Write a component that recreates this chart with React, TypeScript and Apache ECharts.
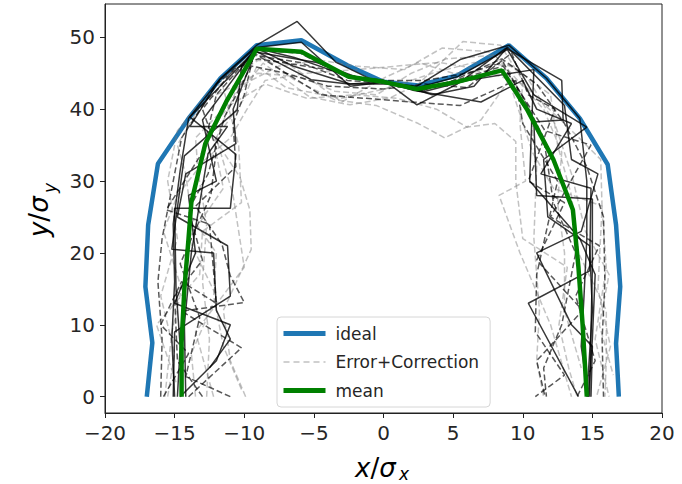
import React, { useEffect, useRef } from "react";
import * as echarts from "echarts";

// ---- data (x/σx, y/σy) ----
const ideal: number[][] = [
  [-17.0, 0], [-16.6, 7.5], [-17.1, 15.3], [-16.9, 23.9], [-16.2, 32.4], [-14.0, 38.7], [-11.7, 44.3],
  [-9.1, 48.9], [-5.9, 49.6], [-2.6, 46.1], [0.0, 43.8], [2.5, 43.3], [5.3, 44.7], [9.0, 48.9],
  [11.7, 44.3], [14.1, 38.7], [16.1, 32.3], [16.7, 23.9], [17.0, 15.3], [16.7, 7.4], [16.9, 0],
];

const mean: number[][] = [
  [-14.5, 0], [-14.5, 7.5], [-14.3, 15.0], [-14.0, 22.0], [-13.8, 27.0], [-12.8, 35.2], [-11.3, 41.0],
  [-9.1, 48.4], [-5.9, 48.0], [-2.5, 44.5], [0.0, 43.8], [2.4, 42.8], [5.3, 43.8], [8.5, 45.4],
  [10.3, 40.0], [12.2, 33.0], [13.6, 26.0], [14.0, 18.0], [14.3, 10.0], [14.6, 0],
];

// Error+Correction trajectories: solid black
const solid1: number[][] = [
  [-15.0, 0], [-15.2, 8], [-15.0, 16], [-15.1, 24], [-14.6, 31.5], [-14.0, 38.7], [-11.7, 44.3],
  [-9.1, 48.9], [-6.2, 52.2], [-3.4, 46.5], [-0.5, 43.8], [2.4, 43.2], [5.5, 46.9], [9.0, 48.9],
  [11.7, 44.3], [14.1, 38.7], [14.6, 30], [14.6, 22], [14.4, 14], [14.2, 7], [14.7, 0],
];
const solid2: number[][] = [
  [-14.8, 0], [-14.6, 7], [-14.9, 15], [-15.0, 26.2], [-11.0, 26.2], [-10.6, 33.7], [-13.9, 38.9],
  [-9.0, 48.6], [-5.9, 49.3], [-2.4, 43.2], [0.2, 43.8], [2.4, 40.6], [5.3, 43.5], [8.8, 48.5],
  [12.8, 44.0], [12.9, 38.5], [10.8, 38.2], [11.0, 28], [15.0, 27.5], [15.0, 18], [14.8, 0],
];
const solid3: number[][] = [
  [-12.5, 4], [-11.0, 8], [-12.0, 12], [-12.2, 20], [-15.2, 20.5], [-14.3, 33.5], [-10.5, 39.9],
  [-10.2, 46], [-9.3, 48.2], [-5.2, 44.1], [-2.5, 43.5], [0.5, 43.5], [3.0, 42.5], [6.0, 44.0],
  [10.8, 45.5], [10.6, 36], [10.5, 30], [14.1, 22], [15.2, 17], [15.0, 8], [14.7, 0],
];
const solid4: number[][] = [
  [-14.2, 0], [-14.3, 10], [-13.8, 20], [-12.6, 33.8], [-11.2, 37.6], [-13.9, 37.6], [-11.8, 44.0],
  [-9.2, 48.5], [-6.4, 47.2], [-2.4, 44.5], [0.0, 43.8], [2.2, 42.6], [7.0, 41.0], [10.0, 44.0],
  [11.0, 40.0], [13.5, 38.0], [11.3, 31.0], [14.9, 29.0], [14.8, 17.5], [10.4, 13], [14.0, 0],
];
const solid5: number[][] = [
  [-15.1, 0], [-15.0, 9], [-11.0, 14], [-11.2, 21], [-14.8, 25], [-14.2, 31], [-10.6, 35.2],
  [-10.8, 40], [-9.1, 48.5], [-6.5, 46], [-2.4, 43.5], [0, 43.8], [2.5, 43], [5.3, 44.5],
  [8.9, 48.3], [10.8, 42], [14.6, 37.5], [11.5, 33], [11.8, 25], [14.8, 21], [15.0, 12], [14.6, 0],
];
const solid6: number[][] = [
  [-14.6, 0], [-12.0, 5], [-11.0, 10], [-15.0, 13], [-13.5, 20], [-14.0, 28], [-12.0, 30],
  [-13.0, 38.5], [-9.3, 48], [-4.8, 46.5], [-2.0, 44.5], [1.0, 43.5], [3.5, 42.0], [6.5, 43.2],
  [8.9, 48.6], [13.0, 40.5], [13.5, 33], [15.4, 31], [14.2, 23], [11.0, 20], [13.5, 10], [15.0, 7], [14.9, 0],
];
// dashed black
const dashK1: number[][] = [
  [-16.0, 0], [-15.9, 8], [-16.2, 16], [-15.9, 22], [-15.3, 28], [-14.5, 36], [-12.0, 43.5],
  [-9.3, 47.5], [-6.0, 46.5], [-2.6, 44.0], [0.3, 43.6], [2.6, 42.5], [5.0, 44.0], [8.5, 47.0],
  [11.0, 43.5], [13.0, 38.0], [14.6, 32], [15.8, 25], [15.9, 16], [15.7, 8], [15.8, 0],
];
const dashK2: number[][] = [
  [-14.0, 0], [-10.2, 6.8], [-14.5, 11.9], [-10.0, 13.1], [-11.0, 16.8], [-11.6, 21.2], [-13.5, 26.5],
  [-10.6, 32], [-10.8, 38], [-10.0, 42], [-9.3, 47.8], [-4.5, 42.0], [2.0, 41.0], [5.5, 40.5],
  [9.5, 44], [10.0, 38], [12.5, 30], [11.0, 17], [10.9, 9], [13.0, 3], [10.9, 0],
];
const dashK3: number[][] = [
  [-11.0, 0], [-14.2, 2.8], [-13.2, 11], [-14.6, 18.5], [-12.4, 28], [-12.0, 34.5], [-13.0, 40],
  [-10.8, 45.5], [-9.0, 47], [-4.0, 45.5], [-1.0, 44], [3.0, 44], [6.0, 45], [8.6, 46.5],
  [10.2, 41], [11.5, 36], [12.2, 27], [13.8, 20], [12.8, 10], [11.5, 4], [11.7, 0],
];
const dashK4: number[][] = [
  [-15.8, 0], [-14.0, 6], [-16.0, 10], [-14.5, 16], [-12.0, 13], [-12.5, 24], [-15.6, 26],
  [-13.0, 34], [-12.0, 42], [-9.2, 48.2], [-6.0, 47.8], [-3.0, 44.8], [0, 44], [2.6, 42.5],
  [5.5, 44.2], [8.6, 46], [11.6, 37], [14.9, 35], [12.0, 25], [15.5, 21], [13.8, 14], [15.2, 5], [13.9, 0],
];
const dashK5: number[][] = [
  [-13.0, 0], [-14.8, 5], [-15.0, 14], [-13.0, 19], [-14.0, 26], [-12.6, 31], [-11.4, 39],
  [-9.5, 46], [-7.0, 45], [-4.0, 43.2], [0, 42.8], [3.0, 43.5], [6.0, 43], [9.2, 47.8],
  [10.4, 42], [12.3, 40], [10.4, 30], [13.0, 27], [11.0, 19], [14.3, 12], [11.0, 5], [11.6, 0],
];
// dashed grey
const dashG1: number[][] = [
  [-9.9, 0], [-11.0, 5], [-11.5, 12], [-9.5, 20.5], [-9.6, 26], [-10.3, 30.5], [-12.5, 37],
  [-8.65, 46.4], [-5.3, 41.7], [-2.4, 40.6], [0.5, 41.6], [2.5, 43.5], [5.7, 49.4], [8.4, 48.9],
  [10.0, 44.0], [9.8, 38], [10.2, 30], [8.3, 28], [9.8, 20], [12.0, 10], [13.5, 0],
];
const dashG2: number[][] = [
  [-15.5, 0], [-15.0, 6], [-16.0, 14], [-14.8, 22], [-15.5, 30], [-14.8, 37], [-12.5, 42.5],
  [-9.0, 46.8], [-7.0, 46.5], [-5.5, 44.5], [-3.0, 41.0], [0.2, 44.5], [2.5, 46.5], [5.0, 45],
  [8.8, 45.5], [10.5, 40], [11.0, 32], [10.8, 22], [11.2, 12], [11.0, 5], [11.5, 0],
];
const dashG3: number[][] = [
  [-12.7, 0], [-12.5, 8], [-13.0, 16], [-12.7, 24], [-13.3, 31], [-13.5, 36], [-11.5, 40],
  [-8.5, 43.5], [-5.5, 41.5], [-2.0, 42.0], [1.0, 41.5], [3.8, 40.0], [6.0, 37.5], [8.0, 38.0],
  [9.5, 35.5], [9.5, 30], [10.0, 22], [13.2, 18], [12.6, 10], [13.3, 4], [13.9, 0],
];
const dashG4: number[][] = [
  [-13.5, 0], [-13.8, 6], [-12.0, 14], [-14.0, 22], [-11.5, 29], [-12.2, 35.5], [-10.0, 41.5],
  [-9.1, 46], [-7.0, 43], [-3.0, 41.5], [0.5, 43], [3.5, 45], [6.5, 46.5], [9.2, 46],
  [12.0, 42], [12.5, 35], [13.5, 28], [14.0, 20], [16.0, 12], [16.0, 5], [15.9, 0],
];
const dashG5: number[][] = [
  [-15.7, 0], [-15.2, 9], [-14.5, 15], [-15.8, 23], [-14.8, 28], [-12.8, 33], [-11.0, 36],
  [-9.8, 40], [-8.5, 44], [-5.5, 45], [-2.0, 45.5], [1.0, 46], [4.0, 46.5], [7.0, 45.5],
  [10.0, 43.5], [13.0, 38], [15.6, 33], [15.7, 26], [16.0, 18], [15.2, 8], [16.2, 0],
];
const dashG6: number[][] = [
  [-10.2, 1], [-11.5, 7], [-12.2, 14], [-12.0, 20], [-13.8, 25], [-14.2, 31], [-14.8, 35],
  [-13.0, 41], [-9.0, 45.0], [-6.0, 44.5], [-3.5, 42.5], [-0.5, 42.0], [2.0, 45], [4.5, 47],
  [8.0, 47.5], [11.5, 40], [12.8, 34], [12.5, 27], [13.0, 20], [13.0, 12], [14.2, 4],
];
const dashG7: number[][] = [
  [-14.9, 2], [-16.3, 10], [-13.2, 17], [-13.0, 23], [-10.2, 27], [-10.4, 35], [-11.7, 44.3],
  [-9.1, 48.0], [-6.5, 44.2], [-3.5, 41.3], [-0.5, 40.5], [2.5, 38.0], [4.4, 36.0], [7.0, 38.5],
  [9.0, 44], [10.7, 34], [12.2, 29], [15.7, 26.5], [15.4, 15], [16.3, 7], [15.3, 0],
];
const dashG8: number[][] = [
  [-12.2, 0], [-13.5, 9], [-10.0, 18], [-10.8, 28], [-12.0, 36], [-10.5, 43], [-7.5, 46],
  [-4.5, 46.8], [-2.0, 46], [1.5, 45.5], [4.2, 48.5], [7.5, 48], [10.3, 44.5], [12.3, 38],
  [13.5, 31], [14.5, 23], [16.2, 17], [15.5, 10], [16.5, 3],
];

const xTicks = [-20, -15, -10, -5, 0, 5, 10, 15, 20];
const yTicks = [0, 10, 20, 30, 40, 50];

const FONT = "DejaVu Sans";

export default function App() {
  const ref = useRef<HTMLDivElement>(null);
  useEffect(() => {
    if (!ref.current) return;
    const chart = echarts.init(ref.current, undefined, { renderer: "svg" });

    const errLine = (name: string, data: number[][], kind: "solid" | "dashK" | "dashG") => ({
      type: "line",
      name,
      data,
      symbol: "none",
      silent: true,
      lineStyle:
        kind === "solid"
          ? { color: "rgba(0,0,0,0.78)", width: 1.5, type: "solid" }
          : kind === "dashK"
          ? { color: "rgba(0,0,0,0.65)", width: 1.5, type: [6, 3] }
          : { color: "rgba(120,120,120,0.45)", width: 1.5, type: [6, 3] },
    });

    const hidden = { opacity: 0, color: "transparent", borderWidth: 0 };

    const option: any = {
      animation: false,
      backgroundColor: "#ffffff",
      textStyle: { fontFamily: FONT },
      grid: {
        left: 105,
        right: 20,
        top: 4,
        bottom: 71,
        show: true,
        borderColor: "#222",
        borderWidth: 1,
        outerBoundsMode: "none",
      },
      xAxis: {
        type: "value",
        min: -20,
        max: 20,
        interval: 5,
        axisLine: { show: true, onZero: false, lineStyle: { color: "#222", width: 1 } },
        axisTick: { show: true, length: 5, lineStyle: { color: "#222" }, customValues: xTicks },
        axisLabel: {
          fontSize: 20,
          color: "#262626",
          fontFamily: FONT,
          margin: 10,
          customValues: xTicks,
          formatter: (v: number) => (v < 0 ? "\u2212" + Math.abs(v) : String(v)),
        },
        splitLine: { show: false },
      },
      yAxis: {
        type: "value",
        min: -2.27,
        max: 54.63,
        axisLine: { show: true, onZero: false, lineStyle: { color: "#222", width: 1 } },
        axisTick: { show: true, length: 5, lineStyle: { color: "#222" }, customValues: yTicks },
        axisLabel: {
          fontSize: 20,
          color: "#262626",
          fontFamily: FONT,
          margin: 10,
          customValues: yTicks,
        },
        splitLine: { show: false },
      },
      legend: {
        orient: "vertical",
        left: 277,
        top: 317,
        padding: [8, 11, 8, 4],
        itemWidth: 42,
        itemHeight: 17,
        itemGap: 11.5,
        backgroundColor: "rgba(255,255,255,0.85)",
        borderColor: "#d6d6d6",
        borderWidth: 1,
        borderRadius: 4,
        itemStyle: hidden,
        textStyle: { fontSize: 17, color: "#262626", fontFamily: FONT, padding: [0, 0, 0, 5] },
        data: [
          {
            name: "ideal",
            itemStyle: hidden,
            lineStyle: { color: "#1f77b4", width: 5, type: "solid" },
          },
          {
            name: "Error+Correction",
            lineStyle: { color: "#d0d0d0", width: 2, type: [6, 4] },
            itemStyle: hidden,
          },
          {
            name: "mean",
            itemStyle: hidden,
            lineStyle: { color: "#008000", width: 5, type: "solid" },
          },
        ],
      },
      series: [
        {
          type: "line",
          name: "ideal",
          data: ideal,
          symbol: "none",
          lineStyle: { color: "#1f77b4", width: 4.5 },
          itemStyle: { color: "#1f77b4" },
        },
        errLine("Error+Correction", dashG1, "dashG"),
        errLine("_g2", dashG2, "dashG"),
        errLine("_g3", dashG3, "dashG"),
        errLine("_g4", dashG4, "dashG"),
        errLine("_g5", dashG5, "dashG"),
        errLine("_g6", dashG6, "dashG"),
        errLine("_g7", dashG7, "dashG"),
        errLine("_g8", dashG8, "dashG"),
        errLine("_k1", dashK1, "dashK"),
        errLine("_k2", dashK2, "dashK"),
        errLine("_k3", dashK3, "dashK"),
        errLine("_k4", dashK4, "dashK"),
        errLine("_k5", dashK5, "dashK"),
        errLine("_s1", solid1, "solid"),
        errLine("_s2", solid2, "solid"),
        errLine("_s3", solid3, "solid"),
        errLine("_s4", solid4, "solid"),
        errLine("_s5", solid5, "solid"),
        errLine("_s6", solid6, "solid"),
        {
          type: "line",
          name: "mean",
          data: mean,
          symbol: "none",
          lineStyle: { color: "#008000", width: 4.5 },
          itemStyle: { color: "#008000" },
        },
      ],
      graphic: [
        {
          type: "text",
          left: 355,
          top: 455,
          style: {
            text: "{i|x}{n|/}{i|σ}",
            rich: {
              i: { fontFamily: FONT, fontSize: 26, fontStyle: "italic", fill: "#000" },
              n: { fontFamily: FONT, fontSize: 26, fill: "#000" },
            },
          },
        },
        {
          type: "text",
          left: 399,
          top: 465,
          style: { text: "x", fontFamily: FONT, fontSize: 17, fontStyle: "italic", fill: "#000" },
        },
        {
          type: "group",
          x: 52,
          y: 237,
          rotation: Math.PI / 2,
          children: [
            {
              type: "text",
              x: 0,
              y: 0,
              style: {
                text: "{i|y}{n|/}{i|σ}",
                textVerticalAlign: "bottom",
                verticalAlign: "bottom",
                rich: {
                  i: { fontFamily: FONT, fontSize: 26, fontStyle: "italic", fill: "#000" },
                  n: { fontFamily: FONT, fontSize: 26, fill: "#000" },
                },
              },
            },
            {
              type: "text",
              x: 44,
              y: 6,
              style: {
                text: "y",
                fontFamily: FONT,
                fontSize: 17,
                fontStyle: "italic",
                fill: "#000",
                verticalAlign: "bottom",
              },
            },
          ],
        },
      ],
    };
    chart.setOption(option);
    return () => chart.dispose();
  }, []);
  return (
    <div
      ref={ref}
      style={{ position: "absolute", left: 0, top: 0, width: 682, height: 484, background: "#fff" }}
    />
  );
}
